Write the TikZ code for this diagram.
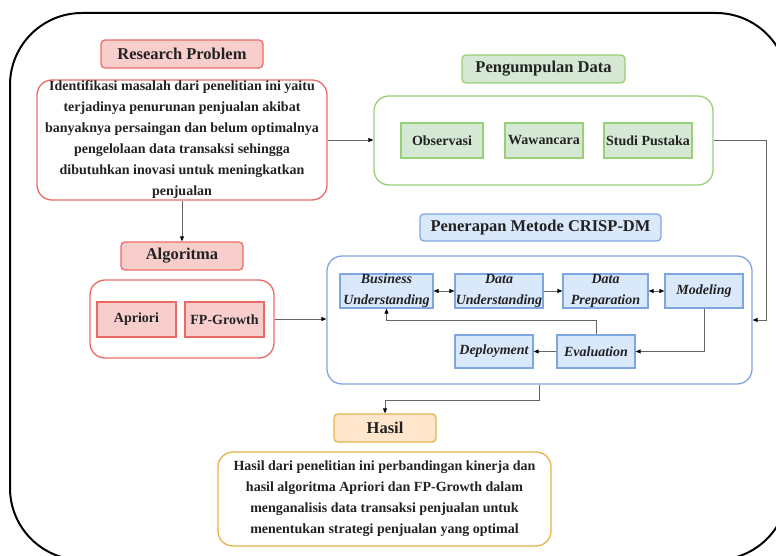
\documentclass[tikz,border=0pt]{standalone}
\usepackage{fontspec}
\setmainfont{Liberation Serif}
\usetikzlibrary{positioning,arrows.meta,calc}
\definecolor{redfill}{HTML}{F8CECC}
\definecolor{redline}{HTML}{EA6B66}
\definecolor{greenfill}{HTML}{D5E8D4}
\definecolor{greenline}{HTML}{97D077}
\definecolor{bluefill}{HTML}{DAE8FC}
\definecolor{blueline}{HTML}{7EA6E0}
\definecolor{orangefill}{HTML}{FFE6CC}
\definecolor{orangeline}{HTML}{E8B24A}
\definecolor{inkc}{HTML}{222222}
\tikzset{
  head/.style  = {draw=#1line, fill=#1fill, line width=1.3pt, rounded corners=4pt, inner sep=0pt,
                  text=inkc, font=\fontsize{16.5}{20}\selectfont\bfseries},
  panel/.style = {draw=#1line, line width=1.3pt, rounded corners=15pt, inner sep=0pt,
                  text=inkc, align=center, font=\fontsize{14}{21}\selectfont\bfseries},
  cell/.style  = {draw=#1line, fill=#1fill, line width=1.3pt, inner sep=0pt,
                  text=inkc, align=center, font=\fontsize{14}{21}\selectfont\bfseries},
  phase/.style = {cell=blue, font=\fontsize{14}{21}\selectfont\bfseries\itshape},
  flow/.style  = {-{Triangle[length=5pt,width=4pt,color=black]}, line width=0.9pt, draw=black!60},
  both/.style  = {{Triangle[length=5pt,width=4pt,color=black]}-{Triangle[length=5pt,width=4pt,color=black]},
                  line width=0.9pt, draw=black!60},
}

\begin{document}
\begin{tikzpicture}[x=1pt,y=-1pt]
\useasboundingbox (0,0) rectangle (776,556);
% outer frame, cut by the page edge
\begin{scope}
\clip (0,0) rectangle (776,556);
\draw[line width=2pt, rounded corners=72pt] (10,13) rectangle (788,560);
\end{scope}

% research problem
\node[head=red, minimum width=162pt, minimum height=28pt] (rptitle) at (182,54) {Research Problem};
\node[panel=red, minimum width=290pt, minimum height=120pt] (rpbox) at (182,140)
  {Identifikasi masalah dari penelitian ini yaitu\\
   terjadinya penurunan penjualan akibat\\
   banyaknya persaingan dan belum optimalnya\\
   pengelolaan data transaksi sehingga\\
   dibutuhkan inovasi untuk meningkatkan\\
   penjualan};

% pengumpulan data
\node[head=green, minimum width=163pt, minimum height=28pt] (pdtitle) at (543.5,69) {Pengumpulan Data};
\node[panel=green, minimum width=339pt, minimum height=89pt] (pdbox) at (543.5,140.5) {};
\node[cell=green, minimum width=82pt, minimum height=35pt] (obs) at (442,140.5) {Observasi};
\node[cell=green, minimum width=78pt, minimum height=35pt] (waw) at (544,140.5) {Wawancara};
\node[cell=green, minimum width=88pt, minimum height=35pt] (stu) at (648,140.5) {Studi Pustaka};

% algoritma
\node[head=red, minimum width=122pt, minimum height=28pt] (altitle) at (182,256) {Algoritma};
\node[panel=red, minimum width=184pt, minimum height=78pt] (albox) at (182,319) {};
\node[cell=red, minimum width=79pt, minimum height=35pt] (apr) at (136.5,319.5) {Apriori};
\node[cell=red, minimum width=79pt, minimum height=35pt] (fpg) at (224.5,319.5) {FP-Growth};

% crisp-dm
\node[head=blue, minimum width=241pt, minimum height=27pt] (crtitle) at (540.5,227.5) {Penerapan Metode CRISP-DM};
\node[panel=blue, minimum width=425pt, minimum height=128pt] (crbox) at (539.5,320) {};
\node[phase, minimum width=93pt, minimum height=34pt] (bu) at (386.5,291) {Business\\Understanding};
\node[phase, minimum width=88pt, minimum height=34pt] (du) at (499,291) {Data\\Understanding};
\node[phase, minimum width=85pt, minimum height=34pt] (dp) at (605.5,291) {Data\\Preparation};
\node[phase, minimum width=78pt, minimum height=34pt] (mod) at (704,291) {Modeling};
\node[phase, minimum width=78pt, minimum height=33pt] (dep) at (494,351.5) {Deployment};
\node[phase, minimum width=78pt, minimum height=33pt] (eva) at (596,351.5) {Evaluation};

% hasil
\node[head=orange, minimum width=102pt, minimum height=28pt] (hstitle) at (385,428) {Hasil};
\node[panel=orange, minimum width=333pt, minimum height=94pt] (hsbox) at (384.5,499)
  {Hasil dari penelitian ini perbandingan kinerja dan\\
   hasil algoritma Apriori dan FP-Growth dalam\\
   menganalisis data transaksi penjualan untuk\\
   menentukan strategi penjualan yang optimal};

\draw[flow] (rpbox.east) -- (rpbox.east -| pdbox.west);
\draw[flow] (pdbox.east) -- ++(53,0) |- (crbox.east);
\draw[flow] (rpbox.south) -- (altitle.north);
\draw[flow] (albox.east) -- (albox.east -| crbox.west);
\draw[flow] (crbox.south) -- ++(0,16) -| (hstitle.north);
% phase cycle
\draw[both] (bu) -- (du);
\draw[flow] (du) -- (dp);
\draw[both] (dp) -- (mod);
\draw[flow] (mod.south) |- (eva.east);
\draw[flow] (eva.north) -- ++(0,-14) -| (bu.south);
\draw[flow] (eva) -- (dep);

\end{tikzpicture}
\end{document}
